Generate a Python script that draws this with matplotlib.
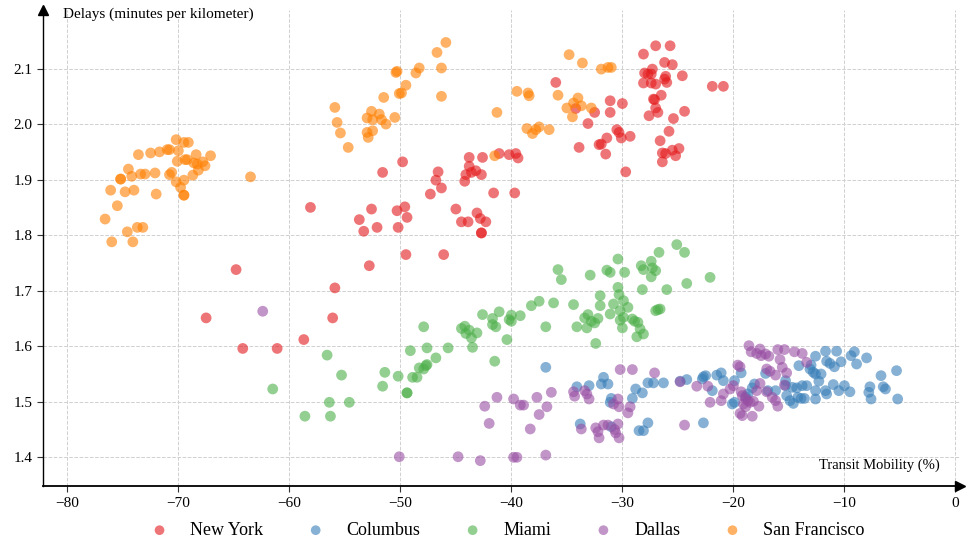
import matplotlib
matplotlib.use("Agg")
import matplotlib.pyplot as plt

plt.rcParams['font.family'] = ['Liberation Serif', 'DejaVu Serif']

# transit mobility (%) and delays (min/km)
ny_x = [-58.1, -49.8, -51.6, -53.7, -52.6, -53.3, -52.1, -50.3, -49.6, -49.4, -50.2, -49.5, -46.1, -52.8,
        -46.6, -46.8, -46.3, -47.3, -45.0, -44.5, -43.9, -43.1, -42.8, -42.3, -42.7, -42.7, -43.8, -42.6,
        -43.8, -44.1, -44.2, -43.6, -43.2, -42.7, -41.6, -39.7, -41.1, -40.2, -39.6, -39.4, -36.0, -34.2,
        -33.1, -33.9, -32.5, -31.1, -31.1, -30.0, -30.5, -30.3, -30.1, -29.3, -31.4, -32.1, -31.9, -31.5,
        -29.7, -28.1, -27.0, -25.7, -26.2, -25.5, -27.3, -28.0, -27.7, -27.4, -26.1, -26.2, -26.0, -24.6,
        -28.1, -27.4, -27.0, -26.5, -27.2, -27.1, -27.0, -26.8, -27.6, -24.4, -25.4, -25.8, -26.6, -26.4,
        -26.1, -25.5, -25.2, -24.9, -26.4, -21.9, -20.9, -64.8, -67.5, -64.2, -61.1, -58.7, -56.1, -55.9]
ny_y = [1.850, 1.932, 1.913, 1.828, 1.847, 1.807, 1.814, 1.844, 1.851, 1.832, 1.814, 1.765, 1.765, 1.745,
        1.914, 1.899, 1.885, 1.874, 1.847, 1.824, 1.824, 1.840, 1.830, 1.824, 1.804, 1.804, 1.940, 1.940,
        1.924, 1.909, 1.897, 1.913, 1.916, 1.909, 1.876, 1.876, 1.947, 1.945, 1.947, 1.939, 2.075, 2.028,
        2.001, 1.958, 2.021, 2.042, 2.021, 2.037, 1.990, 1.985, 1.975, 1.978, 1.975, 1.963, 1.964, 1.946,
        1.914, 2.126, 2.141, 2.141, 2.111, 2.107, 2.099, 2.092, 2.090, 2.090, 2.086, 2.081, 2.075, 2.087,
        2.074, 2.074, 2.072, 2.052, 2.045, 2.044, 2.029, 2.021, 2.015, 2.023, 2.010, 1.987, 1.970, 1.948,
        1.947, 1.953, 1.943, 1.956, 1.932, 2.068, 2.068, 1.738, 1.651, 1.596, 1.596, 1.612, 1.651, 1.705]

col_x = [-36.9, -34.1, -33.0, -31.9, -31.7, -31.3, -31.0, -31.1, -29.1, -28.8, -28.2, -27.7, -27.2, -26.3,
         -24.8, -24.2, -33.8, -28.5, -28.1, -27.7, -31.0, -22.7, -22.5, -22.8, -21.9, -21.5, -21.1, -20.9,
         -22.7, -19.9, -20.1, -19.9, -19.3, -17.1, -18.1, -18.3, -18.7, -18.9, -16.9, -16.2, -15.3, -15.3,
         -15.2, -14.9, -14.6, -14.7, -14.3, -13.8, -13.4, -14.2, -13.9, -13.6, -14.1, -13.1, -12.8, -12.6,
         -12.6, -12.6, -13.0, -11.7, -10.7, -11.6, -11.3, -10.9, -10.3, -9.4, -9.1, -8.9, -8.0, -12.6,
         -12.1, -12.3, -11.7, -11.6, -11.0, -10.5, -10.0, -9.5, -7.7, -7.8, -7.6, -6.7, -6.5, -6.3, -5.3, -5.2]
col_y = [1.562, 1.527, 1.529, 1.532, 1.544, 1.532, 1.506, 1.499, 1.506, 1.523, 1.516, 1.534, 1.534, 1.534,
         1.537, 1.540, 1.460, 1.448, 1.448, 1.462, 1.455, 1.545, 1.547, 1.541, 1.520, 1.548, 1.552, 1.538,
         1.462, 1.538, 1.496, 1.499, 1.552, 1.551, 1.532, 1.525, 1.514, 1.509, 1.520, 1.520, 1.538, 1.529,
         1.511, 1.502, 1.497, 1.526, 1.525, 1.529, 1.529, 1.508, 1.506, 1.506, 1.565, 1.559, 1.553, 1.582,
         1.520, 1.505, 1.566, 1.591, 1.591, 1.573, 1.569, 1.563, 1.572, 1.583, 1.590, 1.568, 1.579, 1.550,
         1.550, 1.537, 1.520, 1.514, 1.531, 1.520, 1.529, 1.518, 1.527, 1.517, 1.505, 1.547, 1.527, 1.523, 1.556, 1.505]

mia_x = [-61.5, -58.6, -56.3, -56.4, -54.6, -56.6, -55.3, -51.6, -51.4, -50.2, -49.4, -49.4, -49.1, -47.9,
         -47.6, -45.7, -46.8, -48.9, -48.5, -48.3, -47.9, -47.7, -47.6, -44.5, -44.2, -44.1, -43.8, -43.6,
         -43.1, -43.5, -42.6, -41.7, -41.7, -41.4, -41.1, -41.5, -40.4, -40.2, -40.0, -40.0, -39.2, -38.2,
         -37.5, -36.9, -36.2, -35.8, -35.5, -34.4, -34.1, -33.4, -33.1, -33.2, -32.8, -32.5, -32.2, -32.9,
         -32.4, -32.0, -32.0, -31.4, -31.1, -30.4, -29.8, -30.8, -31.1, -30.4, -30.3, -29.9, -29.5, -30.2,
         -30.2, -29.9, -30.0, -29.1, -28.9, -28.6, -28.4, -28.1, -28.7, -28.3, -28.1, -27.4, -27.3, -27.0,
         -27.4, -28.2, -26.7, -26.0, -27.0, -26.8, -26.6, -25.1, -24.4, -24.2, -22.1]
mia_y = [1.523, 1.474, 1.474, 1.499, 1.499, 1.584, 1.548, 1.528, 1.553, 1.546, 1.516, 1.516, 1.592, 1.635,
         1.597, 1.597, 1.579, 1.544, 1.544, 1.561, 1.559, 1.565, 1.567, 1.632, 1.636, 1.623, 1.629, 1.615,
         1.624, 1.598, 1.657, 1.650, 1.639, 1.635, 1.662, 1.573, 1.612, 1.648, 1.645, 1.656, 1.655, 1.673,
         1.681, 1.635, 1.678, 1.738, 1.720, 1.675, 1.635, 1.651, 1.657, 1.633, 1.645, 1.642, 1.650, 1.728,
         1.605, 1.691, 1.673, 1.737, 1.733, 1.757, 1.733, 1.676, 1.658, 1.706, 1.693, 1.682, 1.670, 1.664,
         1.647, 1.652, 1.633, 1.649, 1.645, 1.643, 1.631, 1.622, 1.617, 1.745, 1.738, 1.753, 1.741, 1.736,
         1.725, 1.702, 1.769, 1.702, 1.664, 1.666, 1.667, 1.783, 1.769, 1.713, 1.724]

dal_x = [-62.4, -50.1, -44.8, -42.8, -42.4, -42.0, -41.3, -39.8, -39.2, -38.9, -38.3, -37.7, -37.5, -36.8,
         -36.4, -39.8, -39.5, -36.9, -34.4, -34.3, -33.4, -33.2, -33.0, -33.7, -32.4, -32.2, -32.1, -31.7,
         -31.3, -30.7, -30.6, -30.3, -30.4, -30.8, -30.4, -30.3, -29.3, -29.5, -30.2, -29.1, -27.1, -24.8,
         -24.4, -23.3, -22.3, -20.9, -21.1, -22.1, -20.3, -20.0, -19.3, -19.2, -18.9, -18.7, -18.5, -18.2,
         -19.1, -18.9, -19.4, -19.2, -18.3, -17.7, -19.6, -19.4, -18.6, -18.4, -17.9, -17.6, -17.5, -17.1,
         -16.8, -16.0, -15.4, -14.5, -13.8, -13.4, -15.8, -15.6, -17.0, -16.7, -16.2, -15.2, -17.6, -17.9,
         -17.0, -16.5, -16.2, -16.0, -15.4]
dal_y = [1.663, 1.401, 1.401, 1.394, 1.492, 1.461, 1.508, 1.505, 1.494, 1.494, 1.451, 1.508, 1.477, 1.491,
         1.517, 1.400, 1.400, 1.404, 1.518, 1.510, 1.520, 1.514, 1.505, 1.451, 1.453, 1.446, 1.435, 1.458,
         1.458, 1.450, 1.444, 1.435, 1.460, 1.496, 1.505, 1.491, 1.491, 1.480, 1.558, 1.558, 1.552, 1.536,
         1.458, 1.528, 1.528, 1.514, 1.502, 1.499, 1.523, 1.529, 1.518, 1.511, 1.506, 1.502, 1.499, 1.501,
         1.496, 1.491, 1.479, 1.475, 1.474, 1.492, 1.566, 1.563, 1.601, 1.590, 1.587, 1.595, 1.583, 1.586,
         1.582, 1.594, 1.594, 1.590, 1.587, 1.571, 1.576, 1.562, 1.559, 1.555, 1.548, 1.552, 1.533, 1.520,
         1.518, 1.508, 1.502, 1.492, 1.530]

sf_x = [-73.6, -72.5, -71.7, -71.0, -70.8, -70.2, -69.5, -69.1, -70.0, -68.4, -67.1, -70.1, -69.4, -69.2,
        -68.6, -68.3, -67.8, -67.6, -68.2, -68.7, -74.5, -75.2, -75.2, -74.2, -73.4, -73.0, -72.1, -70.8,
        -70.6, -70.2, -69.5, -69.8, -69.5, -69.5, -76.1, -74.8, -74.0, -72.0, -75.5, -76.6, -74.6, -73.7,
        -73.2, -76.0, -74.1, -63.5, -55.9, -55.7, -55.4, -54.7, -53.0, -52.6, -52.5, -51.9, -51.7, -51.3,
        -50.5, -53.0, -52.9, -52.5, -51.5, -50.4, -50.3, -50.1, -49.9, -49.5, -48.6, -48.3, -46.7, -45.9,
        -46.3, -46.3, -41.3, -41.5, -39.5, -38.5, -38.4, -38.6, -38.1, -37.8, -37.5, -36.6, -34.8, -33.6,
        -35.8, -35.0, -34.5, -34.4, -34.0, -33.7, -32.8, -31.9, -31.3, -31.0]
sf_y = [1.945, 1.948, 1.950, 1.954, 1.954, 1.972, 1.967, 1.967, 1.952, 1.945, 1.943, 1.933, 1.936, 1.936,
        1.930, 1.928, 1.932, 1.925, 1.917, 1.908, 1.919, 1.901, 1.901, 1.906, 1.910, 1.910, 1.912, 1.909,
        1.913, 1.896, 1.899, 1.886, 1.872, 1.872, 1.881, 1.878, 1.881, 1.874, 1.853, 1.829, 1.806, 1.814,
        1.814, 1.788, 1.788, 1.905, 2.030, 2.003, 1.984, 1.958, 2.011, 2.023, 2.008, 2.018, 2.008, 2.000,
        2.012, 1.985, 1.976, 1.988, 2.048, 2.093, 2.095, 2.055, 2.056, 2.070, 2.092, 2.101, 2.129, 2.147,
        2.101, 2.050, 2.021, 1.943, 2.059, 2.056, 2.051, 1.992, 1.983, 1.990, 1.995, 1.990, 2.125, 2.110,
        2.052, 2.029, 2.013, 2.038, 2.047, 2.033, 2.029, 2.099, 2.102, 2.102]

cities = ["New York", "Columbus", "Miami", "Dallas", "San Francisco"]
xs = [ny_x, col_x, mia_x, dal_x, sf_x]
ys = [ny_y, col_y, mia_y, dal_y, sf_y]
colors = ["#e41a1c", "#377eb8", "#4daf4a", "#984ea3", "#ff7f00"]

fig = plt.figure(figsize=(9.76, 5.39), dpi=100)
ax = fig.add_axes([0.044, 0.098, 0.94, 0.883])

for name, x, y, c in zip(cities, xs, ys, colors):
    ax.scatter(x, y, s=60, color=c, alpha=0.6, edgecolors="none", label=name)

ax.set_xlim(-82.2, 0.45)
ax.set_ylim(1.348, 2.205)
ax.set_xticks(range(-80, 1, 10))
ax.set_yticks([1.4, 1.5, 1.6, 1.7, 1.8, 1.9, 2.0, 2.1])
ax.set_xticklabels(["\u221280", "\u221270", "\u221260", "\u221250", "\u221240",
                    "\u221230", "\u221220", "\u221210", "0"])
ax.grid(True, linestyle="--", color="#d0d0d0", linewidth=0.7)
ax.set_axisbelow(True)
ax.tick_params(labelsize=11, length=4, width=0.8, color="#333333")

for s in ["top", "right"]:
    ax.spines[s].set_visible(False)
ax.spines["left"].set_linewidth(1.0)
ax.spines["bottom"].set_linewidth(1.3)

# arrow heads on the axes
ax.plot(1, 0, ">k", markersize=7, transform=ax.transAxes, clip_on=False)
ax.plot(0, 1, "^k", markersize=7, transform=ax.transAxes, clip_on=False)

ax.text(0.022, 0.992, "Delays (minutes per kilometer)", transform=ax.transAxes,
        ha="left", va="center", fontsize=11)
ax.text(0.978, 0.044, "Transit Mobility (%)", transform=ax.transAxes,
        ha="right", va="center", fontsize=10.5)

fig.legend(loc="lower center", bbox_to_anchor=(0.52, -0.03), ncol=5, frameon=False,
           fontsize=13, markerscale=0.9, handlelength=1.0, handletextpad=1.2,
           columnspacing=2.4)

fig.savefig("out.png", dpi=100)
